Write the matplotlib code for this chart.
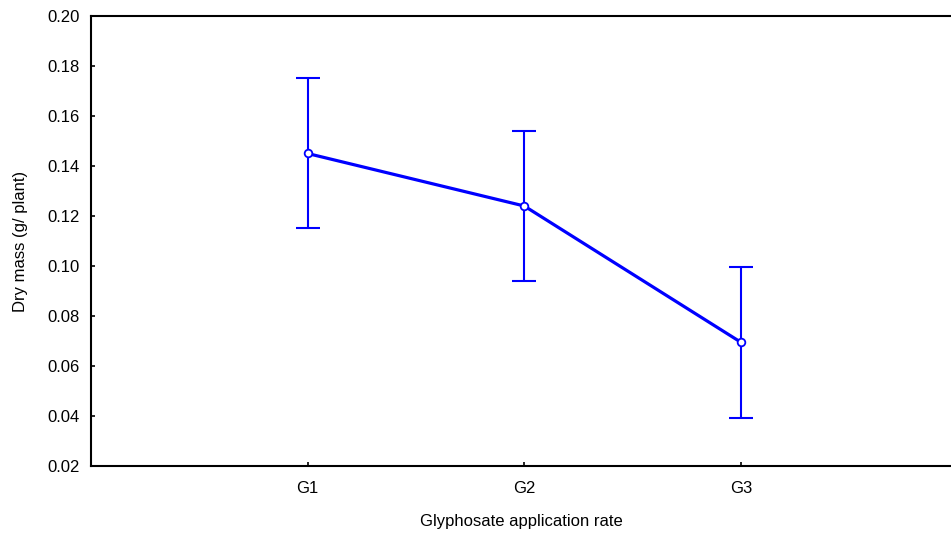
import numpy as np
import matplotlib.pyplot as plt

plt.rcParams['font.family'] = ['Liberation Sans', 'DejaVu Sans']

groups = ['G1', 'G2', 'G3']
dry_mass = [0.145, 0.124, 0.0695]
err = [0.030, 0.030, 0.0302]

fig = plt.figure(figsize=(9.51, 5.33), dpi=100)
ax = fig.add_axes([0.0957, 0.1257, 0.9043, 0.8443])

x = np.arange(1, len(groups) + 1)
ax.errorbar(x, dry_mass, yerr=err, fmt='none', ecolor='#0000ff',
            elinewidth=1.5, capsize=8.3, capthick=1.5, zorder=2)
ax.plot(x, dry_mass, color='#0000ff', lw=2.3, marker='o', ms=5.5,
        mfc='white', mec='#0000ff', mew=1.3, zorder=3)

ax.set_xlim(0, 3.97)
ax.set_ylim(0.02, 0.20)
ax.set_xticks(x)
ax.set_xticklabels(groups)
ax.set_yticks(np.arange(0.02, 0.201, 0.02))
ax.set_yticklabels([f'{v:.2f}' for v in np.arange(0.02, 0.201, 0.02)])
ax.tick_params(direction='in', length=3, width=1.2, labelsize=12, pad=8)
ax.tick_params(axis='x', pad=11)

ax.spines['right'].set_visible(False)
for s in ['left', 'bottom', 'top']:
    ax.spines[s].set_linewidth(1.5)

ax.set_xlabel('Glyphosate application rate', fontsize=12, labelpad=13)
ax.set_ylabel('Dry mass (g/ plant)', fontsize=12, labelpad=14)

fig.savefig('out.png', dpi=100)
